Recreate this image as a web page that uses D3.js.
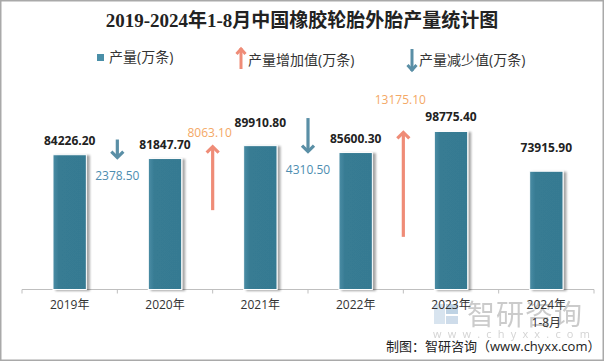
<!DOCTYPE html>
<html>
<head>
<meta charset="utf-8">
<script src="https://cdn.jsdelivr.net/npm/d3@7/dist/d3.min.js"></script>
<style>
    body { margin: 0; background: #fff; }
    svg { display: block; }
</style>
</head>
<body>
<div id="container"><svg></svg></div>
<script>
// data
let years = ['2019年', '2020年', '2021年', '2022年', '2023年', '2024年'];
let year_sub = ['', '', '', '', '', '1-8月'];
let output = [84226.20, 81847.70, 89910.80, 85600.30, 98775.40, 73915.90];
// change from the previous year, + is increase, - is decrease
let change = [-2378.50, 8063.10, -4310.50, 13175.10, null];
let legend_names = ['产量(万条)', '产量增加值(万条)', '产量减少值(万条)'];

let width = 604, height = 361;
let fontFamily = "'Open Sans', 'Noto Sans CJK SC', sans-serif";
let up_color = '#ef8c77', down_color = '#5a8fa6';
// extra lift (px) of some value labels, as placed by hand in the original
let label_lift = [0, 0, 9, 0, 0, 9];

function draw_main() {
    let svg = d3.select('#container').select('svg')
        .attr('width', width)
        .attr('height', height)
        .style('font-family', fontFamily);

    let defs = svg.append('defs');
    let grad = defs.append('linearGradient').attr('id', 'bar_grad')
        .attr('x1', '0%').attr('x2', '100%').attr('y1', '0%').attr('y2', '0%');
    grad.append('stop').attr('offset', '0%').attr('stop-color', '#4b8da5');
    grad.append('stop').attr('offset', '18%').attr('stop-color', '#377b93');
    grad.append('stop').attr('offset', '100%').attr('stop-color', '#367a92');
    let shadow = defs.append('filter').attr('id', 'shadow')
        .attr('x', '-20%').attr('y', '-10%').attr('width', '150%').attr('height', '120%');
    shadow.append('feDropShadow')
        .attr('dx', 3).attr('dy', 1).attr('stdDeviation', 1.2)
        .attr('flood-color', '#000').attr('flood-opacity', 0.35);

    // outer border
    svg.append('rect')
        .attr('x', 0.75).attr('y', 0.75)
        .attr('width', width - 1.5).attr('height', height - 1.5)
        .attr('fill', '#fff').attr('stroke', '#a9a9a9').attr('stroke-width', 1.5);

    // title
    svg.append('text')
        .attr('x', 302).attr('y', 27)
        .attr('text-anchor', 'middle')
        .attr('font-family', "'Liberation Serif', 'Noto Sans CJK SC', serif")
        .attr('font-weight', 'bold')
        .attr('font-size', 19)
        .attr('fill', '#222')
        .text('2019-2024年1-8月中国橡胶轮胎外胎产量统计图');

    // scales
    let x = d3.scaleBand().domain(years).range([22, 594]);
    let y = d3.scaleLinear().domain([0, 120000]).range([289.5, 97.5]);
    // arrows use a secondary axis, one fifth of the main one
    let y2 = d3.scaleLinear().domain([0, 24000]).range([289.5, 97.5]);
    let bw = x.bandwidth() * 0.35;

    // watermark (behind everything else)
    let wm = svg.append('g').attr('opacity', 0.9);
    wm.append('rect').attr('x', 434).attr('y', 304).attr('width', 11).attr('height', 20).attr('fill', '#d4e2ee');
    wm.append('rect').attr('x', 446).attr('y', 304).attr('width', 12).attr('height', 10).attr('fill', '#b9cfe2');
    wm.append('rect').attr('x', 446).attr('y', 316).attr('width', 12).attr('height', 8).attr('fill', '#c9d9e8');
    wm.append('text')
        .attr('x', 467).attr('y', 325)
        .attr('font-size', 28).attr('fill', '#c6c6c6')
        .attr('letter-spacing', 1)
        .text('智研咨询');
    wm.append('text')
        .attr('x', 433).attr('y', 338)
        .attr('font-size', 11).attr('fill', '#cfcfcf')
        .attr('letter-spacing', 6.2)
        .text('www.chyxx.com');

    // x axis
    let axis_x = d3.axisBottom(x).tickSize(0).tickFormat('');
    let gx = svg.append('g')
        .attr('transform', `translate(0, ${y(0)})`)
        .call(axis_x);
    gx.select('.domain').attr('stroke', '#bfbfbf').attr('d', `M22,0H594`);
    gx.selectAll('.bound')
        .data(d3.range(years.length + 1))
        .enter().append('line')
        .attr('x1', i => i < years.length ? x(years[i]) : x.range()[1])
        .attr('x2', i => i < years.length ? x(years[i]) : x.range()[1])
        .attr('y1', 0).attr('y2', 4)
        .attr('stroke', '#bfbfbf');

    let labels = svg.append('g').attr('font-size', 12).attr('fill', '#333')
        .selectAll('g').data(years).enter().append('g')
        .attr('transform', d => `translate(${x(d) + x.bandwidth() / 2}, 0)`);
    labels.append('text')
        .attr('y', 309).attr('text-anchor', 'middle').text(d => d);
    labels.append('text')
        .attr('y', 327).attr('text-anchor', 'middle').text((d, i) => year_sub[i]);

    // footer
    svg.append('text')
        .attr('x', 386).attr('y', 351)
        .attr('font-size', 13).attr('fill', '#222')
        .text('制图：智研咨询（www.chyxx.com）');

    // bars
    svg.append('g')
        .selectAll('rect')
        .data(output)
        .enter().append('rect')
        .attr('x', (d, i) => x(years[i]) + (x.bandwidth() - bw) / 2)
        .attr('y', d => y(d))
        .attr('width', bw)
        .attr('height', d => y(0) - y(d))
        .attr('fill', 'url(#bar_grad)')
        .attr('stroke', '#fff')
        .attr('stroke-width', 1)
        .attr('filter', 'url(#shadow)');

    // bar value labels
    let value_labels = svg.append('g')
        .selectAll('text')
        .data(output)
        .enter().append('text')
        .attr('x', (d, i) => x(years[i]) + x.bandwidth() / 2)
        .attr('y', (d, i) => y(d) - 10 - label_lift[i])
        .attr('text-anchor', 'middle')
        .attr('font-weight', 'bold')
        .attr('font-size', 12)
        .attr('fill', '#222')
        .text(d => d.toFixed(2));

    // change arrows, the tip sits on the next bar's top
    let arrows = svg.append('g');
    change.forEach((c, i) => {
        if (c == null) return;
        let ax = x(years[i]) + x.bandwidth();
        let tip = y(output[i + 1]);
        let len = y2(0) - y2(Math.abs(c));
        let up = c > 0;
        let tail = up ? tip + len : tip - len;
        let col = up ? up_color : down_color;
        let s = up ? 1 : -1;
        let g = arrows.append('g')
            .attr('stroke', col).attr('stroke-width', 3.2).attr('fill', 'none');
        g.append('line')
            .attr('x1', ax).attr('x2', ax)
            .attr('y1', tail).attr('y2', tip + s * 1);
        g.append('path')
            .attr('stroke-linejoin', 'miter')
            .attr('d', `M${ax - 6},${tip + s * 7}L${ax},${tip + s * 1}L${ax + 6},${tip + s * 7}`);

        let t = arrows.append('text')
            .attr('x', up ? ax - 3 : ax)
            .attr('text-anchor', 'middle')
            .attr('font-size', 12)
            .attr('fill', up ? '#f4a865' : '#4d8db0')
            .text(Math.abs(c).toFixed(2));
        if (up) {
            t.attr('y', tip - 9);
            // sits level with the next bar's value label -> move it above
            let a = t.node().getBBox();
            let b = value_labels.nodes()[i + 1].getBBox();
            if (Math.abs((a.y + a.height / 2) - (b.y + b.height / 2)) < 8)
                t.attr('y', b.y - 4);
        } else {
            t.attr('y', tip + 21);
        }
    });

    // legend
    let lg = svg.append('g').attr('font-size', 14).attr('fill', '#333');
    lg.append('rect').attr('x', 97).attr('y', 54).attr('width', 7).attr('height', 7).attr('fill', '#4a8fa8');
    lg.append('text').attr('x', 109).attr('y', 62).text(legend_names[0]);

    let leg_arrow = (ax, y_top, y_bot, col, up) => {
        let g = lg.append('g').attr('stroke', col).attr('stroke-width', 3).attr('fill', 'none');
        g.append('line').attr('x1', ax).attr('x2', ax).attr('y1', y_top).attr('y2', y_bot);
        let tp = up ? y_top : y_bot, s = up ? 1 : -1;
        g.append('path').attr('d', `M${ax - 4.5},${tp + s * 6}L${ax},${tp + s * 1}L${ax + 4.5},${tp + s * 6}`);
    };
    leg_arrow(241, 48, 69, up_color, true);
    lg.append('text').attr('x', 248).attr('y', 65).text(legend_names[1]);
    leg_arrow(412, 49, 71, down_color, false);
    lg.append('text').attr('x', 419).attr('y', 65).text(legend_names[2]);
}

draw_main();
</script>
</body>
</html>
